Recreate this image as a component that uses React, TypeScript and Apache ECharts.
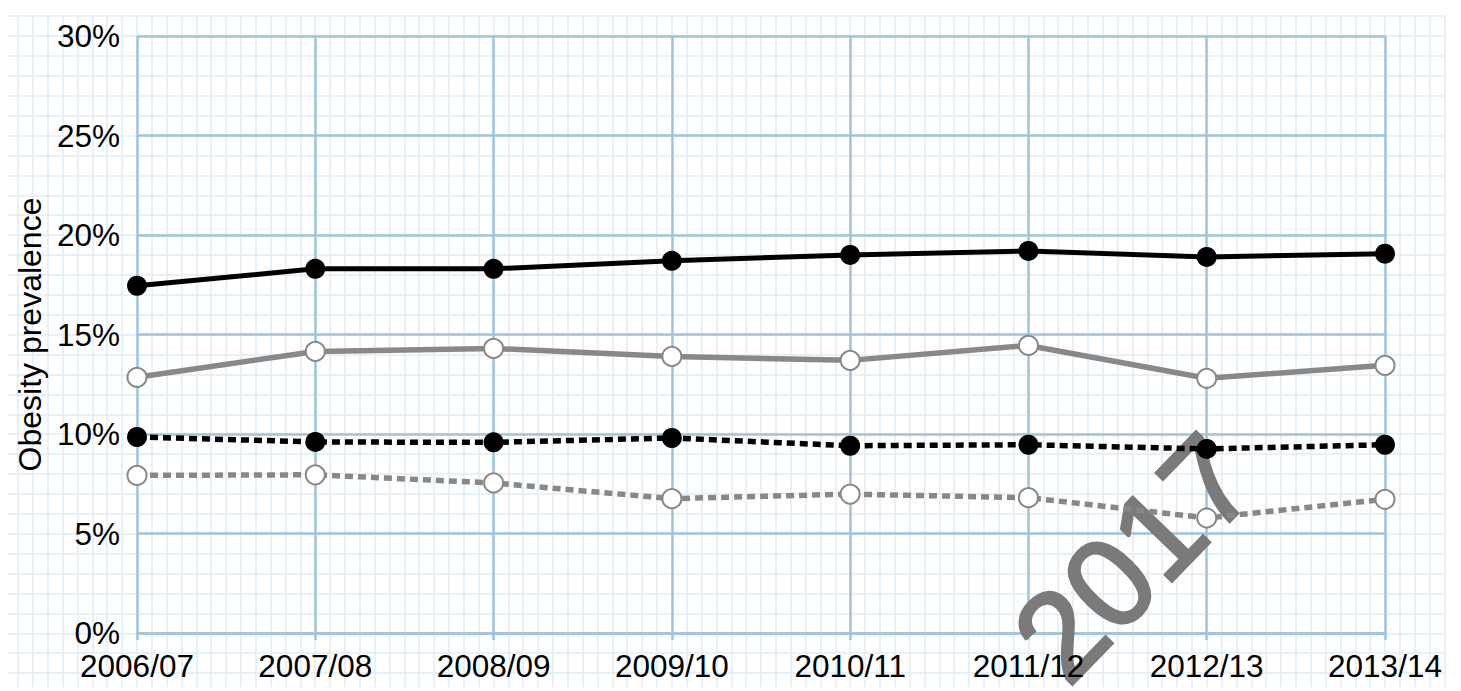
import React, { useEffect, useRef } from "react";
import * as echarts from "echarts";

const categories = ["2006/07", "2007/08", "2008/09", "2009/10", "2010/11", "2011/12", "2012/13", "2013/14"];
const blackSolid = [17.45, 18.3, 18.3, 18.7, 19.0, 19.2, 18.9, 19.06];
const greySolid = [12.85, 14.15, 14.3, 13.9, 13.7, 14.45, 12.8, 13.45];
const blackDotted = [9.85, 9.6, 9.58, 9.8, 9.41, 9.46, 9.25, 9.46];
const greyDotted = [7.92, 7.95, 7.54, 6.75, 6.98, 6.8, 5.78, 6.72];
const yTicks = [0, 5, 10, 15, 20, 25, 30];

const FONT = '"Liberation Sans", Arial, sans-serif';
const MAJOR = "#9fc5dc";
const MINOR = "#e2edf6";
const GREY = "#888888";

export default function App() {
  const ref = useRef<HTMLDivElement>(null);
  useEffect(() => {
    if (!ref.current) return;
    const chart = echarts.init(ref.current, null, { renderer: "svg" });
    const dotted = [8, 5];
    const option: any = {
      animation: false,
      backgroundColor: "#ffffff",
      grid: [
        { left: 137, right: 76, top: 36, bottom: 58 },
        { left: 8, right: 16, top: 16.1, bottom: 17.9 },
        { left: 18.1, right: 16.6, top: 15, bottom: 4 },
      ],
      xAxis: [
        {
          gridIndex: 0,
          type: "category",
          data: categories,
          boundaryGap: false,
          axisLine: { show: true, lineStyle: { color: MAJOR, width: 2.5 } },
          axisTick: { show: true, length: 7, lineStyle: { color: MAJOR, width: 2.5 } },
          axisLabel: { show: false },
          splitLine: { show: true, lineStyle: { color: MAJOR, width: 2.5 } },
          z: 2,
        },
        {
          gridIndex: 1,
          type: "value",
          min: 0,
          max: 1,
          show: false,
          splitLine: { show: false },
        },
        {
          gridIndex: 2,
          type: "value",
          min: -8,
          max: 88,
          interval: 1,
          axisLine: { show: false },
          axisTick: { show: false },
          axisLabel: { show: false },
          splitLine: { show: true, lineStyle: { color: MINOR, width: 1.5 } },
          z: 0,
        },
        {
          gridIndex: 0,
          type: "category",
          data: categories,
          boundaryGap: false,
          position: "bottom",
          axisLine: { show: false },
          axisTick: { show: false },
          splitLine: { show: false },
          axisLabel: { color: "#000", fontSize: 31.5, fontFamily: FONT, margin: 17 },
          z: 10,
        },
      ],
      yAxis: [
        {
          gridIndex: 0,
          type: "value",
          min: yTicks[0],
          max: yTicks[yTicks.length - 1],
          interval: 5,
          name: "Obesity prevalence",
          nameLocation: "middle",
          nameGap: 86,
          nameTextStyle: { color: "#000", fontSize: 32, fontFamily: FONT },
          axisLine: { show: false },
          axisTick: { show: false },
          axisLabel: { color: "#000", fontSize: 31.5, fontFamily: FONT, margin: 17, formatter: "{value}%" },
          splitLine: { show: true, lineStyle: { color: MAJOR, width: 2.5 } },
          z: 2,
        },
        {
          gridIndex: 1,
          type: "value",
          min: -2,
          max: 31,
          interval: 1,
          axisLine: { show: false },
          axisTick: { show: false },
          axisLabel: { show: false },
          splitLine: { show: true, lineStyle: { color: MINOR, width: 1.5 } },
          z: 0,
        },
        {
          gridIndex: 2,
          type: "value",
          min: 0,
          max: 1,
          show: false,
          splitLine: { show: false },
        },
      ],
      series: [
        {
          type: "line",
          data: blackSolid,
          symbol: "circle",
          symbolSize: 20,
          itemStyle: { color: "#000" },
          lineStyle: { color: "#000", width: 5 },
          z: 5,
        },
        {
          type: "line",
          data: greySolid,
          symbol: "circle",
          symbolSize: 19,
          itemStyle: { color: "#fff", borderColor: GREY, borderWidth: 2 },
          lineStyle: { color: GREY, width: 5.5 },
          z: 4,
        },
        {
          type: "line",
          data: blackDotted,
          symbol: "circle",
          symbolSize: 20,
          itemStyle: { color: "#000" },
          lineStyle: { color: "#000", width: 5.5, type: dotted },
          z: 5,
        },
        {
          type: "line",
          data: greyDotted,
          symbol: "circle",
          symbolSize: 19,
          itemStyle: { color: "#fff", borderColor: GREY, borderWidth: 2 },
          lineStyle: { color: GREY, width: 5.5, type: dotted },
          z: 4,
        },
      ],
      graphic: [
        {
          type: "text",
          x: 1134,
          y: 558,
          rotation: (46 * Math.PI) / 180,
          z: 3,
          silent: true,
          style: {
            text: "2017",
            font: 'normal 126px "Liberation Sans", Arial, sans-serif',
            fill: "#7a7a7a",
            stroke: "#7a7a7a",
            lineWidth: 3,
            align: "center",
            verticalAlign: "middle",
          },
        },
      ],
    };
    chart.setOption(option);
    return () => chart.dispose();
  }, []);
  return (
    <div
      ref={ref}
      style={{ position: "fixed", left: 0, top: 0, width: 1461, height: 691 }}
    />
  );
}
